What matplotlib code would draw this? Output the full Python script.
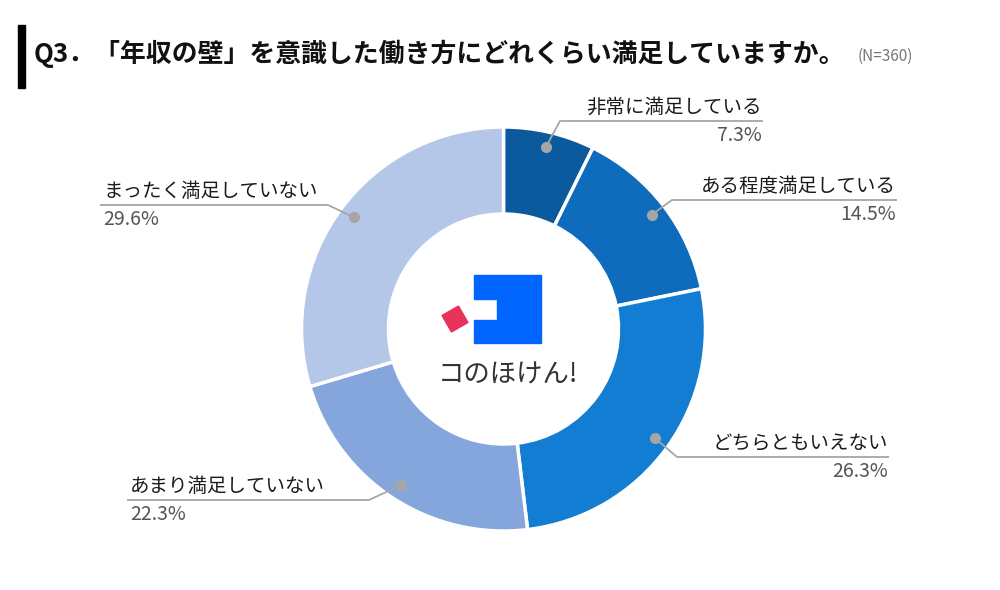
import matplotlib
matplotlib.use("Agg")
import matplotlib.pyplot as plt
from matplotlib.patches import Rectangle, Polygon
import numpy as np

plt.rcParams['font.family'] = ['Noto Sans CJK JP', 'DejaVu Sans']

title = "Q3．「年収の壁」を意識した働き方にどれくらい満足していますか。"
n_note = "(N=360)"
categories = ["非常に満足している", "ある程度満足している", "どちらともいえない",
              "あまり満足していない", "まったく満足していない"]
values = [7.3, 14.5, 26.3, 22.3, 29.6]
colors = ["#0b5a9e", "#0f6cbd", "#127dd2", "#84a6dc", "#b4c7e8"]

W, H = 1000, 590
fig = plt.figure(figsize=(W / 100, H / 100), dpi=100)
ax = fig.add_axes([0, 0, 1, 1])

def Y(y):
    return H - y

cx, cy, R, r_in = 503.5, 329, 202, 115
wedges, _ = ax.pie(values, colors=colors, startangle=90, counterclock=False,
                   center=(cx, Y(cy)), radius=R, frame=True,
                   wedgeprops=dict(width=R - r_in, edgecolor='white', linewidth=2.5))
ax.set_xlim(0, W)
ax.set_ylim(0, H)
ax.set_aspect('equal')
ax.axis('off')

# label layout: elbow (x,y), line end x, side
layout = [
    ((560, 121), 763, 'right'),
    ((672, 200), 897, 'right'),
    ((677, 457), 889, 'right'),
    ((369, 500), 127, 'left'),
    ((328, 205), 100, 'left'),
]
r_dot = 187
for w, (elbow, xend, side), cat, v in zip(wedges, layout, categories, values):
    ang = np.deg2rad((w.theta1 + w.theta2) / 2)
    dx = cx + r_dot * np.cos(ang)
    dy = Y(cy) + r_dot * np.sin(ang)
    ex, ey = elbow
    ax.plot([dx, ex, xend], [dy, Y(ey), Y(ey)], color='#a6a6a6', lw=1.3,
            solid_capstyle='butt', zorder=3)
    ax.plot([dx], [dy], 'o', color='#a6a6a6', ms=7, zorder=4)
    if side == 'right':
        tx, ha = xend - 1, 'right'
    else:
        tx, ha = xend + 3, 'left'
    ax.text(tx, Y(ey) + 3, cat, ha=ha, va='bottom', fontsize=14, color='#1a1a1a')
    ax.text(tx, Y(ey) - 4, f"{v}%", ha=ha, va='top', fontsize=14, color='#555555')

# title
ax.add_patch(Rectangle((18, Y(88)), 7, 63, color='black'))
ax.text(34, Y(54), title, ha='left', va='center', fontsize=18.6, fontweight='bold',
        color='#111111')
ax.text(858, Y(56), n_note, ha='left', va='center', fontsize=11, color='#777777')

# logo
ax.add_patch(Polygon([(474, Y(275)), (541, Y(275)), (541, Y(343)), (474, Y(343)),
                      (474, Y(320)), (497, Y(320)), (497, Y(299)), (474, Y(299))],
                     closed=True, color='#0066ff', zorder=5))
c = np.array([455, Y(319)])
s = 9.5
a0 = np.deg2rad(30)
pts = [c + s * np.sqrt(2) * np.array([np.cos(a0 + k * np.pi / 2 + np.pi / 4),
                                      np.sin(a0 + k * np.pi / 2 + np.pi / 4)]) for k in range(4)]
ax.add_patch(Polygon(pts, closed=True, color='#e8325a', zorder=5))
ax.text(508, Y(375), "コのほけん!", ha='center', va='center', fontsize=19, color='#333333')

fig.savefig("out.png", dpi=100)
